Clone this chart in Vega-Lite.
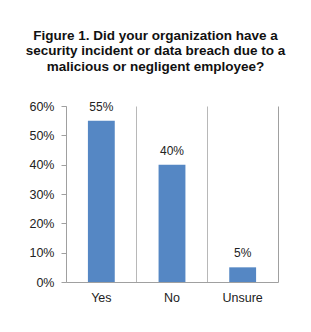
{
  "$schema": "https://vega.github.io/schema/vega-lite/v6.json",
  "autosize": "none",
  "width": 212,
  "height": 176,
  "padding": {"left": 66, "top": 106, "right": 33, "bottom": 50},
  "background": "white",
  "title": {
    "text": ["Figure 1. Did your organization have a", "security incident or data breach due to a", "malicious or negligent employee?"],
    "font": "Liberation Sans",
    "fontSize": 13.5,
    "fontWeight": "bold",
    "color": "#111",
    "lineHeight": 15.5,
    "anchor": "middle",
    "frame": "group",
    "dx": -16.5,
    "offset": 27
  },
  "config": {
    "view": {"stroke": null},
    "axis": {
      "labelFont": "Liberation Sans",
      "labelFontSize": 12.5,
      "labelColor": "#222",
      "domainColor": "#a0a0a0",
      "tickColor": "#a0a0a0",
      "gridColor": "#b8b8b8",
      "title": null
    }
  },
  "data": {
    "values": [
      {"answer": "Yes", "pct": 0.55},
      {"answer": "No", "pct": 0.40},
      {"answer": "Unsure", "pct": 0.05}
    ]
  },
  "encoding": {
    "x": {
      "field": "answer",
      "type": "nominal",
      "sort": null,
      "scale": {"paddingInner": 0, "paddingOuter": 0},
      "axis": {"labelAngle": 0, "ticks": false, "grid": true, "bandPosition": 0, "labelPadding": 9, "gridWidth": 1}
    },
    "y": {
      "field": "pct",
      "type": "quantitative",
      "scale": {"domain": [0, 0.6], "nice": false},
      "axis": {"format": ".0%", "values": [0, 0.1, 0.2, 0.3, 0.4, 0.5, 0.6], "grid": false, "tickSize": 5, "labelPadding": 7}
    }
  },
  "layer": [
    {
      "mark": {"type": "bar", "color": "#5587c4", "width": {"band": 0.38}}
    },
    {
      "mark": {"type": "text", "baseline": "alphabetic", "dy": -10, "font": "Liberation Sans", "fontSize": 12, "color": "#222"},
      "encoding": {
        "text": {"field": "pct", "type": "quantitative", "format": ".0%"},
        "y": {
          "field": "pct",
          "type": "quantitative",
          "axis": {"orient": "right", "labels": false, "ticks": false, "domain": true, "grid": false}
        }
      }
    }
  ],
  "resolve": {"axis": {"y": "independent"}}
}
